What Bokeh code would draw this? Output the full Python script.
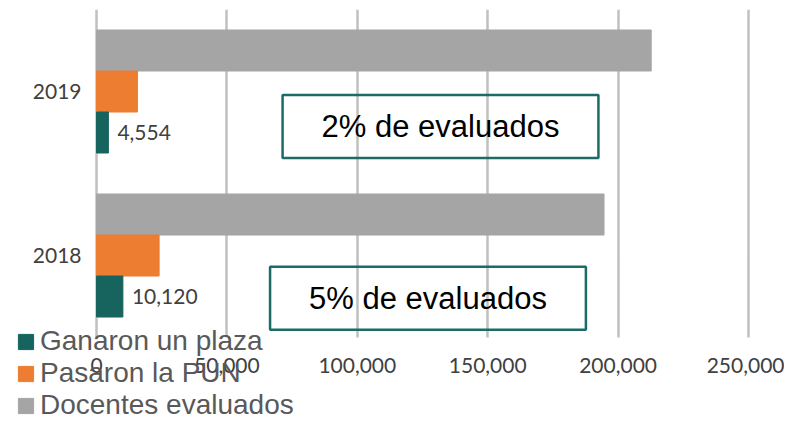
from bokeh.plotting import figure
from bokeh.models import (ColumnDataSource, FixedTicker, NumeralTickFormatter,
                          Legend, LegendItem, Label, LabelSet, BoxAnnotation)
from bokeh.transform import dodge
from bokeh.core.properties import value
from bokeh.embed import file_html
from bokeh.resources import INLINE

# ---- data ----
years = ["2018", "2019"]
ganaron = [10120, 4554]
pasaron = [24000, 15700]
evaluados = [194600, 212700]
ganaron_labels = ["10,120", "4,554"]
x_ticks = [0, 50000, 100000, 150000, 200000, 250000]
series_names = ["Ganaron un plaza", "Pasaron la PUN", "Docentes evaluados"]
box_texts = ["5% de evaluados", "2% de evaluados"]

pos = list(range(len(years)))
src = ColumnDataSource(dict(pos=pos, ganaron=ganaron, pasaron=pasaron,
                            evaluados=evaluados, gan_lbl=ganaron_labels))

TEAL = "#17645f"
ORANGE = "#ed7d31"
GRAY = "#a5a5a5"
GRID = "#c0c0c0"

Y_BAND_BOTTOM, Y_BAND_TOP = -0.5, 1.5

p = figure(width=784, height=421, x_range=(-36810, 263800), y_range=(-1.012, Y_BAND_TOP),
           output_backend="svg", toolbar_location=None,
           min_border_left=0, min_border_right=0, min_border_top=9, min_border_bottom=0)
p.outline_line_color = None
p.background_fill_color = "white"
p.border_fill_color = "white"

r_eval = p.hbar(y=dodge("pos", 0.25), right="evaluados", left=0, height=0.25,
                color=GRAY, source=src)
r_pas = p.hbar(y=dodge("pos", 0.0), right="pasaron", left=0, height=0.25,
               color=ORANGE, source=src)
r_gan = p.hbar(y=dodge("pos", -0.25), right="ganaron", left=0, height=0.25,
               color=TEAL, source=src)

labels = LabelSet(x="ganaron", y=dodge("pos", -0.25), text="gan_lbl", source=src,
                  x_offset=9, text_baseline="middle", text_align="left",
                  text_font=value("Lato"), text_font_size="21px", text_color="#404040")
p.add_layout(labels)

# grid / axes
p.ygrid.grid_line_color = None
p.xgrid.ticker = FixedTicker(ticks=x_ticks)
p.xgrid.grid_line_color = GRID
p.xgrid.grid_line_width = 2.5
# keep the vertical grid lines within the category band area
p.add_layout(BoxAnnotation(top=Y_BAND_BOTTOM, fill_color="white", fill_alpha=1,
                           line_color=None, level="underlay"))

p.xaxis.fixed_location = Y_BAND_BOTTOM
p.xaxis.ticker = FixedTicker(ticks=x_ticks)
p.xaxis.formatter = NumeralTickFormatter(format="0,0")
p.xaxis.axis_line_color = None
p.xaxis.major_tick_line_color = None
p.xaxis.minor_tick_line_color = None
p.xaxis.major_label_standoff = 14
p.xaxis.major_label_text_font = "Lato"
p.xaxis.major_label_text_font_size = "21px"
p.xaxis.major_label_text_color = "#404040"

p.yaxis.fixed_location = 0
p.yaxis.ticker = FixedTicker(ticks=pos)
p.yaxis.major_label_overrides = {i: y for i, y in zip(pos, years)}
p.yaxis.axis_line_color = None
p.yaxis.major_tick_line_color = None
p.yaxis.minor_tick_line_color = None
p.yaxis.major_label_standoff = 9
p.yaxis.major_label_text_font = "Lato"
p.yaxis.major_label_text_font_size = "21px"
p.yaxis.major_label_text_color = "#404040"

# annotation boxes
box_pos = [(127100, -0.26), (131900, 0.787)]
for (bx, by), t in zip(box_pos, box_texts):
    p.add_layout(Label(x=bx, y=by, text=t, text_align="center", text_baseline="middle",
                       text_font="Liberation Sans", text_font_size="31px", text_color="black",
                       border_line_color="#1b6b66", border_line_width=2.5,
                       padding=dict(left=39, right=39, top=14, bottom=14)))

legend = Legend(items=[LegendItem(label=series_names[0], renderers=[r_gan]),
                       LegendItem(label=series_names[1], renderers=[r_pas]),
                       LegendItem(label=series_names[2], renderers=[r_eval])],
                location=(16, 0), orientation="vertical",
                glyph_width=19, glyph_height=19, label_standoff=5,
                label_text_font="Liberation Sans", label_text_font_size="28px",
                label_text_color="#595959", padding=0, margin=0, spacing=-2,
                border_line_color=None, background_fill_alpha=0)
p.add_layout(legend, "center")

open("out.html", "w").write(file_html(p, INLINE))
